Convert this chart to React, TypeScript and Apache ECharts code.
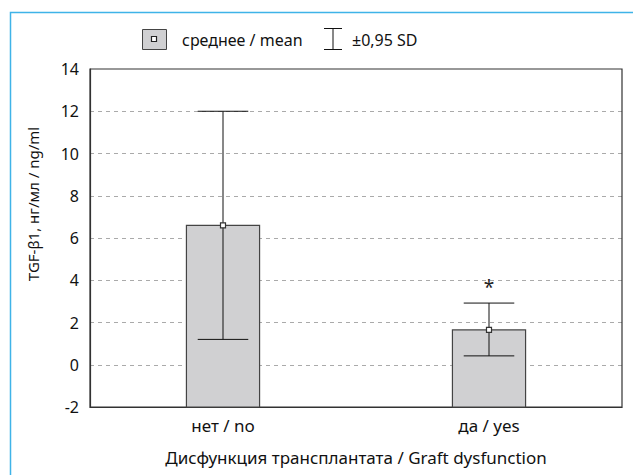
import React, { useEffect, useRef } from "react";
import * as echarts from "echarts";

const categories = ["нет / no", "да / yes"];
const means = [6.6, 1.65];
const upperSD = [12.0, 2.92];
const lowerSD = [1.2, 0.42];
const marks = ["", "*"];
const yTicks = { min: -2, max: 14, interval: 2 };

const FONT = "Noto Sans";

export default function App() {
  const ref = useRef<HTMLDivElement>(null);
  useEffect(() => {
    if (!ref.current) return;
    document.body.style.margin = "0";
    const chart = echarts.init(ref.current, undefined, { renderer: "svg" });
    const data = categories.map((c, i) => [i, means[i], upperSD[i], lowerSD[i]]);
    chart.setOption({
      animation: false,
      backgroundColor: "#fff",
      textStyle: { fontFamily: FONT },
      grid: {
        left: 90,
        right: 11,
        top: 69,
        bottom: 68,
        show: true,
        borderColor: "#333",
        borderWidth: 1.2,
        z: 3,
      },
      xAxis: {
        type: "category",
        data: categories,
        axisLine: { onZero: false, lineStyle: { color: "#333", width: 1.2 } },
        axisTick: { alignWithLabel: true, length: 6, lineStyle: { color: "#333" } },
        axisLabel: { color: "#111", fontSize: 17, fontFamily: FONT, margin: 10 },
        name: "Дисфункция трансплантата / Graft dysfunction",
        nameLocation: "middle",
        nameGap: 42,
        nameTextStyle: { color: "#111", fontSize: 17, fontFamily: FONT },
      },
      yAxis: {
        type: "value",
        min: yTicks.min,
        max: yTicks.max,
        interval: yTicks.interval,
        axisLine: { show: true, onZero: false, lineStyle: { color: "#333", width: 1.2 } },
        axisTick: { show: false },
        axisLabel: { color: "#111", fontSize: 16, fontFamily: FONT, margin: 11 },
        splitLine: {
          show: true,
          showMinLine: false,
          showMaxLine: false,
          lineStyle: { color: "#aaa", type: [4, 4], width: 1 },
        },
      },
      series: [
        {
          type: "custom",
          data,
          encode: { x: 0, y: 1 },
          z: 5,
          renderItem: (params: any, api: any) => {
            const i = api.value(0);
            const mean = api.value(1);
            const up = api.value(2);
            const lo = api.value(3);
            const mark = marks[params.dataIndex];
            const band = api.size([1, 0])[0];
            const bw = band * 0.275;
            const cw = band * 0.19;
            const pTop = api.coord([i, mean]);
            const pBase = api.coord([i, yTicks.min]);
            const pUp = api.coord([i, up]);
            const pLo = api.coord([i, lo]);
            const x = pTop[0];
            const children: any[] = [
              {
                type: "rect",
                shape: { x: x - bw / 2, y: pTop[1], width: bw, height: pBase[1] - pTop[1] },
                style: { fill: "#d0d0d2", stroke: "#444", lineWidth: 1.2 },
              },
              {
                type: "line",
                shape: { x1: x, y1: pUp[1], x2: x, y2: pLo[1] },
                style: { stroke: "#111", lineWidth: 1 },
              },
              {
                type: "line",
                shape: { x1: x - cw / 2, y1: pUp[1], x2: x + cw / 2, y2: pUp[1] },
                style: { stroke: "#111", lineWidth: 1 },
              },
              {
                type: "line",
                shape: { x1: x - cw / 2, y1: pLo[1], x2: x + cw / 2, y2: pLo[1] },
                style: { stroke: "#111", lineWidth: 1 },
              },
              {
                type: "rect",
                shape: { x: x - 2.5, y: pTop[1] - 2.5, width: 5, height: 5 },
                style: { fill: "#fff", stroke: "#333", lineWidth: 1.2 },
              },
            ];
            if (mark) {
              children.push({
                type: "text",
                style: {
                  text: mark,
                  x: x,
                  y: pUp[1] - 7,
                  align: "center",
                  verticalAlign: "bottom",
                  fontSize: 19,
                  fontFamily: FONT,
                  fill: "#222",
                },
              });
            }
            return { type: "group", children };
          },
        },
      ],
      graphic: [
        {
          type: "rect",
          shape: { x: 10.5, y: 12.5, width: 700, height: 600 },
          style: { fill: "none", stroke: "#3fb3e8", lineWidth: 1.5 },
          silent: true,
        },
        {
          type: "rect",
          shape: { x: 142.5, y: 29.5, width: 24, height: 20 },
          style: { fill: "#d0d0d2", stroke: "#444", lineWidth: 1 },
        },
        {
          type: "rect",
          shape: { x: 151.5, y: 36.5, width: 5, height: 5 },
          style: { fill: "#fff", stroke: "#222", lineWidth: 1.2 },
        },
        {
          type: "text",
          style: {
            text: "среднее / mean",
            x: 182,
            y: 40,
            verticalAlign: "middle",
            fontSize: 16,
            fontFamily: FONT,
            fill: "#111",
          },
        },
        {
          type: "line",
          shape: { x1: 324, y1: 28.5, x2: 342, y2: 28.5 },
          style: { stroke: "#111", lineWidth: 1 },
        },
        {
          type: "line",
          shape: { x1: 333, y1: 28.5, x2: 333, y2: 49.5 },
          style: { stroke: "#111", lineWidth: 1 },
        },
        {
          type: "line",
          shape: { x1: 324, y1: 49.5, x2: 342, y2: 49.5 },
          style: { stroke: "#111", lineWidth: 1 },
        },
        {
          type: "text",
          style: {
            text: "±0,95 SD",
            x: 352,
            y: 40,
            verticalAlign: "middle",
            fontSize: 16,
            fontFamily: FONT,
            fill: "#111",
          },
        },
        {
          type: "text",
          x: 33,
          y: 204,
          rotation: Math.PI / 2,
          style: {
            text: "TGF-β1, нг/мл / ng/ml",
            align: "center",
            verticalAlign: "middle",
            fontSize: 15,
            fontFamily: FONT,
            fill: "#111",
          },
        },
      ],
    });
    return () => chart.dispose();
  }, []);
  return <div ref={ref} style={{ width: 633, height: 475 }} />;
}
